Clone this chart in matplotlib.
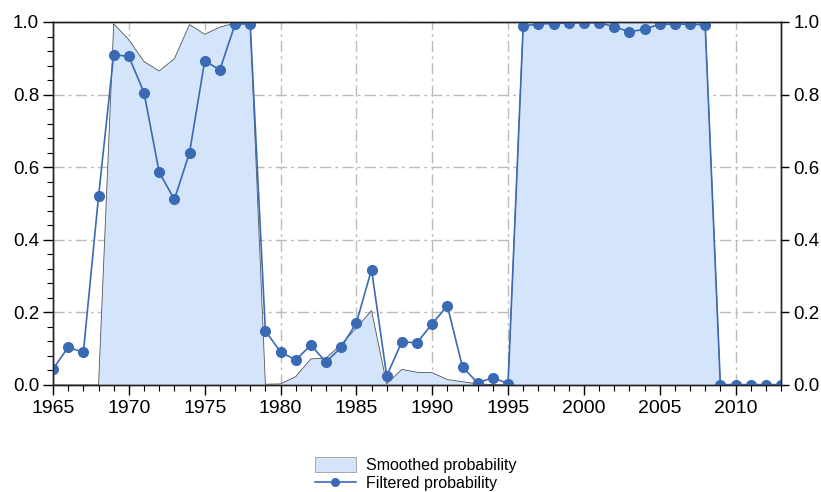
import matplotlib
matplotlib.use('Agg')
import matplotlib.pyplot as plt
from matplotlib.patches import Patch
from matplotlib.lines import Line2D
from matplotlib.ticker import MultipleLocator

plt.rcParams['font.family'] = ['Liberation Sans', 'DejaVu Sans']

years = list(range(1965, 2014))

# filtered probability (line with markers)
filtered = [0.044, 0.104, 0.090, 0.520, 0.910, 0.905, 0.805, 0.586, 0.511, 0.640,
            0.893, 0.868, 0.994, 0.995, 0.149, 0.091, 0.069, 0.110, 0.063, 0.104,
            0.171, 0.318, 0.025, 0.119, 0.116, 0.169, 0.218, 0.049, 0.006, 0.020,
            0.004, 0.989, 0.995, 0.995, 0.998, 0.998, 0.998, 0.987, 0.973, 0.980,
            0.994, 0.994, 0.994, 0.992, 0.001, 0.001, 0.001, 0.001, 0.001]

# smoothed probability (shaded area)
smoothed = [0.0, 0.0, 0.0, 0.0, 0.995, 0.951, 0.891, 0.865, 0.899, 0.993,
            0.966, 0.986, 0.997, 0.997, 0.002, 0.003, 0.023, 0.072, 0.074, 0.112,
            0.157, 0.205, 0.003, 0.043, 0.035, 0.034, 0.015, 0.009, 0.003, 0.001,
            0.0, 0.999, 0.999, 0.999, 1.0, 1.0, 1.0, 0.999, 0.999, 0.999,
            1.0, 1.0, 1.0, 0.999, 0.0, 0.0, 0.0, 0.0, 0.0]

fill_col = '#d3e4fb'
line_col = '#3b6ab5'

fig = plt.figure(figsize=(8.21, 4.92), dpi=100)
ax = fig.add_axes([0.0646, 0.2175, 0.8867, 0.7378])

ax.fill_between(years, 0, smoothed, facecolor=fill_col, edgecolor='none', zorder=1)
ax.plot(years, smoothed, color='#555555', lw=0.6, zorder=2)
ax.plot(years, filtered, color=line_col, lw=1.2, marker='o', ms=7, zorder=3)

ax.set_xlim(1965, 2013)
ax.set_ylim(0, 1)
ax.xaxis.set_major_locator(MultipleLocator(5))
ax.xaxis.set_minor_locator(MultipleLocator(1))
ax.yaxis.set_major_locator(MultipleLocator(0.2))
ax.yaxis.set_minor_locator(MultipleLocator(0.04))
ax.yaxis.set_major_formatter(matplotlib.ticker.FormatStrFormatter('%.1f'))

ax.grid(True, which='major', color='#bbbbbb', lw=1, linestyle=(0, (8, 3, 2, 3)), zorder=0)
ax.set_axisbelow(True)

ax.tick_params(which='major', direction='out', length=7, width=1, labelsize=14, pad=4)
ax.tick_params(axis='y', which='major', labelsize=13.5, pad=3)
ax.tick_params(which='minor', direction='out', length=4.5, width=0.8)

ax2 = ax.twinx()
ax2.set_ylim(0, 1)
ax2.yaxis.set_major_locator(MultipleLocator(0.2))
ax2.yaxis.set_major_formatter(matplotlib.ticker.FormatStrFormatter('%.1f'))
ax2.tick_params(direction='out', length=6, width=1, labelsize=13.5, pad=3)

for a in (ax, ax2):
    for s in a.spines.values():
        s.set_linewidth(1)
        s.set_color('#222222')

handles = [Patch(facecolor=fill_col, edgecolor='#999999', lw=0.6),
           Line2D([0], [0], color=line_col, lw=1.2, marker='o', ms=5.5)]
fig.legend(handles, ['Smoothed probability', 'Filtered probability'],
           loc='upper center', bbox_to_anchor=(0.506, 0.088), frameon=False,
           fontsize=11.5, handlelength=2.6, handleheight=1.1, handletextpad=0.6,
           labelspacing=0.15, borderpad=0)

fig.savefig('out.png', dpi=100)
